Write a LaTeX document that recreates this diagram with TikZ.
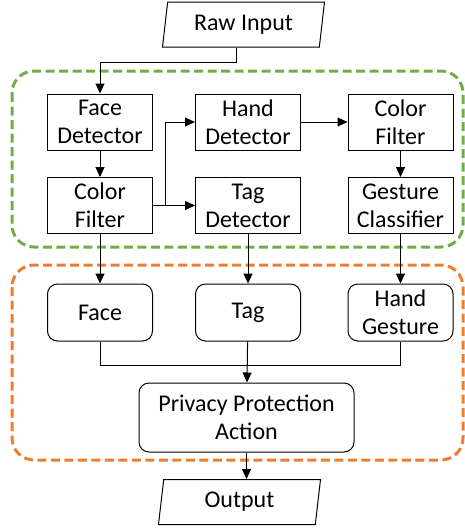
\documentclass[tikz,border=0pt]{standalone}
\usepackage{fontspec}
\setmainfont{Carlito}
\usetikzlibrary{arrows.meta,shapes.geometric}
\definecolor{stagegreen}{RGB}{112,173,71}
\definecolor{stageorange}{RGB}{237,125,49}

\begin{document}
\begin{tikzpicture}[x=1pt,y=-1pt,
		procbox/.style={draw,line width=1pt,minimum width=105pt,minimum height=56pt,inner sep=0pt,align=center,font=\fontsize{24}{28}\selectfont},
		resbox/.style={procbox,rounded corners=10pt},
		iobox/.style={draw,line width=1pt,trapezium,trapezium left angle=75,trapezium right angle=105,trapezium stretches body,minimum width=162pt,minimum height=45pt,inner sep=0pt,font=\fontsize{24}{28}\selectfont},
		conn/.style={line width=1pt,-{Triangle[length=10pt,width=9pt]}},
		stagebox/.style={line width=3pt,dash pattern=on 9pt off 4.5pt,rounded corners=22pt}]
		\useasboundingbox (0,0) rectangle (464,528);

		%stage frames
		\draw[stagebox,stagegreen] (12,71) rectangle (463,247);
		\draw[stagebox,stageorange] (12,265) rectangle (463,460);

		%input and output
		\node[iobox] (raw) at (243.5,24.5) {Raw Input};
		\node[iobox] (out) at (239.5,502) {Output};

		%detection stage
		\node[procbox] (facedet) at (100,122) {Face\\Detector};
		\node[procbox] (handdet) at (248,122) {Hand\\Detector};
		\node[procbox] (colfiltb) at (400.5,122) {Color\\Filter};
		\node[procbox] (colfilta) at (100,205.5) {Color\\Filter};
		\node[procbox] (tagdet) at (248,205.5) {Tag\\Detector};
		\node[procbox] (gestcls) at (400.5,205.5) {Gesture\\Classifier};

		%results
		\node[resbox,minimum height=57pt] (face) at (100,312.5) {Face};
		\node[resbox,minimum height=57pt] (tag) at (248,312.5) {Tag};
		\node[resbox,minimum height=57pt] (handges) at (400.5,312.5) {Hand\\Gesture};
		\node[resbox,minimum width=215pt,minimum height=69pt] (priv) at (246.5,417.5) {Privacy Protection\\Action};

		%connectors
		\draw[conn] ([xshift=-7pt]raw.south) -- ++(0,15) -| (facedet.north);
		\draw[conn] (facedet) -- (colfilta);
		\draw[conn] (colfilta.east) -- (colfilta.east -| tagdet.west);
		\draw[conn] (colfilta.east) -- ++(12,0) |- (handdet.west);
		\draw[conn] (handdet) -- (colfiltb);
		\draw[conn] (colfiltb) -- (gestcls);
		\draw[conn] (colfilta) -- (face);
		\draw[conn] (tagdet) -- (tag);
		\draw[conn] (gestcls) -- (handges);
		\draw[line width=1pt] (face.south) -- ++(0,24) -| (handges.south);
		\draw[conn] (tag) -- (priv);
		\draw[conn] (priv.south) -- (priv.south |- out.north);
\end{tikzpicture}
\end{document}
